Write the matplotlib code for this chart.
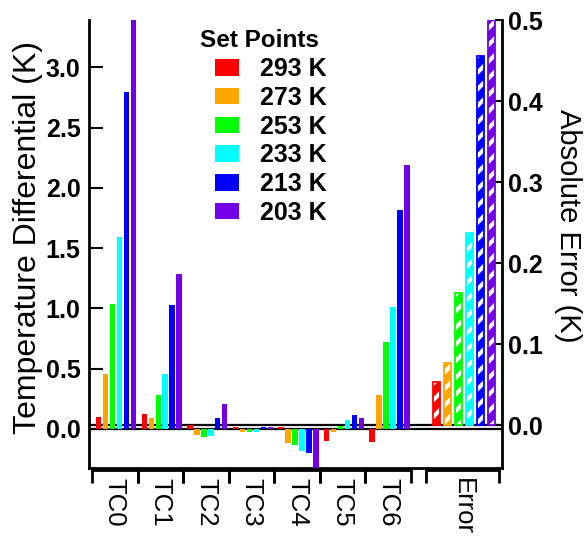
import matplotlib
matplotlib.use("Agg")
import matplotlib.pyplot as plt
import matplotlib.transforms as mtransforms
import numpy as np

# data
categories = ["TC0", "TC1", "TC2", "TC3", "TC4", "TC5", "TC6"]
set_points = ["293 K", "273 K", "253 K", "233 K", "213 K", "203 K"]
diff_293 = [0.097, 0.124, 0.035, 0.013, 0.013, -0.097, -0.105]
diff_273 = [0.456, 0.089, -0.050, -0.027, -0.113, -0.027, 0.282]
diff_253 = [1.040, 0.280, -0.064, -0.025, -0.133, 0.025, 0.725]
diff_233 = [1.590, 0.454, -0.055, -0.022, -0.183, 0.075, 1.010]
diff_213 = [2.800, 1.027, 0.089, 0.020, -0.200, 0.116, 1.817]
diff_203 = [3.400, 1.290, 0.207, 0.020, -0.330, 0.094, 2.190]
abs_error = [0.053, 0.077, 0.163, 0.237, 0.455, 0.500]
error_label = "Error"

colors = ["#FF0000", "#FFA500", "#00FF00", "#00FFFF", "#0000FF", "#7300E6"]
series = [diff_293, diff_273, diff_253, diff_233, diff_213, diff_203]

plt.rcParams["font.family"] = ["Liberation Sans", "DejaVu Sans"]
plt.rcParams["hatch.linewidth"] = 3.0

W, H = 587, 537
fig = plt.figure(figsize=(W / 100, H / 100), dpi=100)
ax = fig.add_axes([89 / W, 1 - 468 / H, 413 / W, 448 / H])
ax2 = ax.twinx()

ylim_left = (-0.324, 3.394)
ylim_right = (-0.053, 0.5)
ax.set_xlim(-0.566, 8.497)
ax.set_ylim(*ylim_left)
ax2.set_ylim(*ylim_right)

# zero lines of both axes, drawn under the bars
frac = (0 - ylim_right[0]) / (ylim_right[1] - ylim_right[0])
right_zero = ylim_left[0] + frac * (ylim_left[1] - ylim_left[0])
ax.axhline(0, color="black", lw=1.6, zorder=1)
ax.axhline(right_zero, color="black", lw=1.6, zorder=1)

x = np.arange(len(categories))
step, width = 0.153, 0.12
handles = []
for k, (vals, col) in enumerate(zip(series, colors)):
    h = ax.bar(x + 0.03 + (k - 2.5) * step, vals, width=width, color=col, zorder=3)
    handles.append(h)

# hatched error bars on the right axis
err_center, err_step, err_width = 7.66, 0.2414, 0.168
for k, col in enumerate(colors):
    xp = err_center + (k - 2.5) * err_step
    ax2.bar(xp, abs_error[k], width=err_width, facecolor=col, edgecolor="white",
            hatch="//", lw=0, zorder=3)
    ax2.bar(xp, abs_error[k], width=err_width, fill=False, edgecolor=col, lw=1.3, zorder=4)

# spines
for a in (ax, ax2):
    a.spines["top"].set_visible(False)
    a.spines["left"].set_linewidth(2)
    a.spines["bottom"].set_linewidth(2)
    a.spines["right"].set_linewidth(2)
ax.spines["right"].set_visible(False)
ax2.spines["left"].set_visible(False)
ax2.spines["bottom"].set_visible(False)

# left axis
lt = np.arange(0, 3.01, 0.5)
ax.set_yticks(lt, labels=["%.1f" % v for v in lt], fontweight="bold", fontsize=18)
ax.tick_params(axis="y", direction="in", length=10, width=1.5, pad=6)
ax.tick_params(axis="x", bottom=False, labelbottom=False)
ax.set_ylabel("Temperature Differential (K)", fontsize=23)
ax.yaxis.set_label_coords(-0.112, 0.515)

# right axis
rt = np.arange(0, 0.51, 0.1)
ax2.set_yticks(rt, labels=["%.1f" % v for v in rt], fontweight="bold", fontsize=18)
ax2.tick_params(axis="y", direction="in", length=5, width=1.5, pad=4)
ax2.set_ylabel("Absolute Error (K)", fontsize=21, rotation=270, va="bottom")
ax2.yaxis.set_label_coords(1.125, 0.54)

# category brackets under the axis
trans = mtransforms.blended_transform_factory(ax.transData, ax.transAxes)
bounds = [(i - 0.5, i + 0.5) for i in range(len(categories))] + [(6.83, 8.43)]
labels = categories + [error_label]
for (b0, b1), lab in zip(bounds, labels):
    ax.plot([b0, b1], [-0.004, -0.004], transform=trans, clip_on=False, color="black", lw=2)
    for b in (b0, b1):
        ax.plot([b, b], [-0.004, -0.034], transform=trans, clip_on=False,
                color="black", lw=2, solid_capstyle="butt")
    ax.text((b0 + b1) / 2, -0.022, lab, transform=trans, rotation=-90,
            ha="center", va="top", fontsize=18.5)

# legend: title as its own text, entries below it
ax.text(0.4116, 0.955, "Set Points", transform=ax.transAxes, ha="center", va="center",
        fontsize=17.5, fontweight="bold")
ax.legend(handles, set_points, frameon=False, loc="upper left",
          bbox_to_anchor=(0.305, 0.917), prop={"weight": "bold", "size": 18},
          handlelength=0.96, handleheight=0.64, handletextpad=0.84,
          labelspacing=0.19, borderpad=0, borderaxespad=0)

fig.savefig("out.png", dpi=100)
